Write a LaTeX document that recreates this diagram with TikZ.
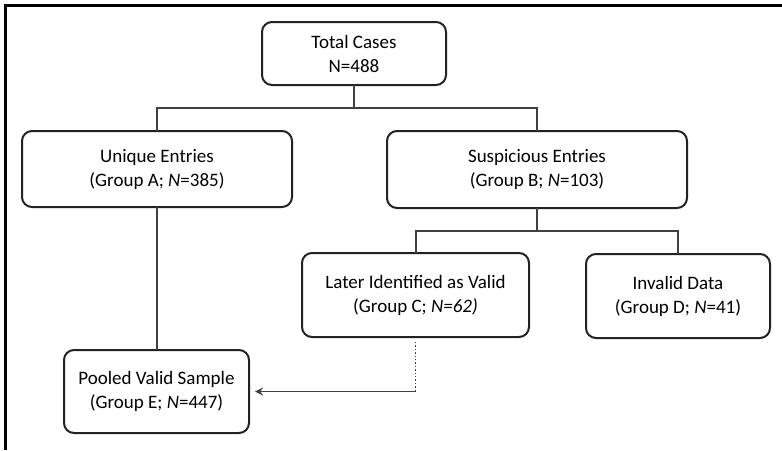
\documentclass[tikz,border=0pt]{standalone}
\usepackage{fontspec}
\setmainfont{Carlito}
\usepackage{xcolor}
\usepackage{tikz}
\usetikzlibrary{arrows}
\definecolor{boxline}{RGB}{34, 34, 34}
\definecolor{linkgray}{RGB}{64, 64, 64}

\begin{document}
\begin{tikzpicture}[x=0.5pt, y=-0.5pt,
  casebox/.style={draw=boxline, line width=1pt, rounded corners=5pt, align=center,
    inner sep=0pt, outer sep=0pt, font=\fontsize{9.5}{12}\selectfont},
  link/.style={draw=linkgray, line width=1pt}]
\useasboundingbox (0,0) rectangle (782,450);

% Frame
\draw[line width=1.5pt] (5,450) -- (5,5) -- (782,5);

% Boxes
\node[casebox, minimum width=92pt, minimum height=31.5pt] (total) at (354,53.5) {Total Cases\\N=488};
\node[casebox, minimum width=135pt, minimum height=38pt] (unique) at (157,169) {Unique Entries\\(Group A; \textit{N}=385)};
\node[casebox, minimum width=150pt, minimum height=38.5pt] (susp) at (537,169.5) {Suspicious Entries\\(Group B; \textit{N}=103)};
\node[casebox, minimum width=113.5pt, minimum height=42pt] (later) at (415.5,295) {Later Identified as Valid\\(Group C; \textit{N=62)}};
\node[casebox, minimum width=92pt, minimum height=42pt] (invalid) at (678,296) {Invalid Data\\(Group D; \textit{N}=41)};
\node[casebox, minimum width=92.5pt, minimum height=41.5pt] (pooled) at (156.5,391.5) {Pooled Valid Sample\\(Group E; \textit{N}=447)};

% Lines
\draw[link] (total.south) -- ++(0,23) -| (unique.north);
\draw[link] (total.south) -- ++(0,23) -| (susp.north);
\draw[link] (susp.south) -- ++(0,23) -| (later.north);
\draw[link] (susp.south) -- ++(0,23) -| (invalid.north);
\draw[link] (unique.south) -- (unique.south |- pooled.north);

% Later valid cases join the pooled sample
\coordinate (bend) at (later.south |- pooled.east);
\draw[link, line width=0.7pt, densely dotted] (later.south) ++(0,5) -- (bend);
\draw[link, line width=0.8pt, -stealth, shorten >=3pt] (bend) -- (pooled.east);
\end{tikzpicture}
\end{document}
